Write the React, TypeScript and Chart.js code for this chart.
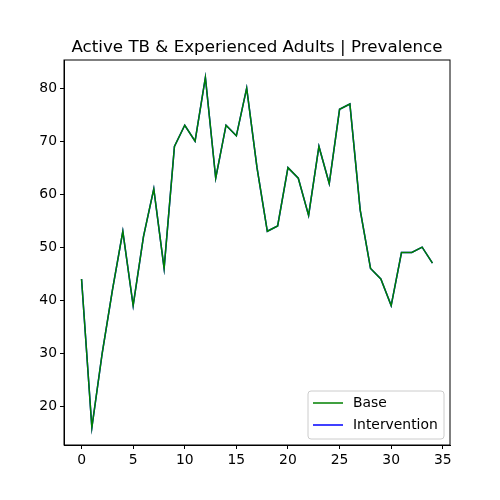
import { useEffect, useRef } from "react"
import { Chart, registerables, type ChartConfiguration, type Plugin } from "chart.js"

Chart.register(...registerables)

const steps = Array.from({ length: 35 }, (_, i) => i)
const baseValues = [44, 16, 30, 42, 53, 39, 52, 61, 46, 69, 73, 70, 82, 63, 73, 71, 80, 65, 53, 54, 65, 63, 56, 69, 62, 76, 77, 57, 46, 44, 39, 49, 49, 50, 47]
const interventionValues = [44, 16, 30, 42, 53, 39, 52, 61, 46, 69, 73, 70, 82, 63, 73, 71, 80, 65, 53, 54, 65, 63, 56, 69, 62, 76, 77, 57, 46, 44, 39, 49, 49, 50, 47]
const xTicks = [0, 5, 10, 15, 20, 25, 30, 35]
const yTicks = [20, 30, 40, 50, 60, 70, 80]
const title = "Active TB & Experienced Adults | Prevalence"
const font = "DejaVu Sans"

// frame, title and matplotlib-style legend
const decorations: Plugin = {
  id: "decorations",
  afterDraw(chart) {
    const { ctx, chartArea: a } = chart
    ctx.save()
    ctx.strokeStyle = "#000"
    ctx.lineWidth = 1
    ctx.strokeRect(a.left, a.top, a.right - a.left, a.bottom - a.top)
    ctx.fillStyle = "#000"
    ctx.font = `16.7px '${font}'`
    ctx.textAlign = "center"
    ctx.textBaseline = "alphabetic"
    ctx.fillText(title, (a.left + a.right) / 2, a.top - 8)

    const items = chart.data.datasets.map((d) => ({ label: d.label as string, color: d.borderColor as string }))
    const w = 136, h = 48
    const x = a.right - w - 6, y = a.bottom - h - 6
    ctx.fillStyle = "rgba(255,255,255,0.8)"
    ctx.strokeStyle = "#ccc"
    ctx.beginPath()
    ctx.roundRect(x, y, w, h, 3)
    ctx.fill()
    ctx.stroke()
    ctx.font = `13.9px '${font}'`
    ctx.textAlign = "left"
    ctx.textBaseline = "middle"
    items.forEach((it, i) => {
      const ly = y + 12 + i * 22
      ctx.strokeStyle = it.color
      ctx.lineWidth = 1.5
      ctx.beginPath()
      ctx.moveTo(x + 5, ly)
      ctx.lineTo(x + 35, ly)
      ctx.stroke()
      ctx.fillStyle = "#000"
      ctx.fillText(it.label, x + 45, ly)
    })
    ctx.restore()
  },
}

export default function App() {
  const canvasRef = useRef<HTMLCanvasElement>(null)

  useEffect(() => {
    document.body.style.margin = "0"
    if (!canvasRef.current) return
    const tickFont = { family: font, size: 13.9 }
    const config: ChartConfiguration = {
      type: "line",
      data: {
        datasets: [
          {
            label: "Base",
            data: steps.map((s, i) => ({ x: s, y: baseValues[i] })),
            borderColor: "#008000",
            borderWidth: 1.5,
            pointRadius: 0,
            tension: 0,
            order: 0,
          },
          {
            label: "Intervention",
            data: steps.map((s, i) => ({ x: s, y: interventionValues[i] })),
            borderColor: "#0000ff",
            borderWidth: 1.5,
            pointRadius: 0,
            tension: 0,
            order: 1,
          },
        ],
      },
      options: {
        responsive: false,
        animation: false,
        layout: { padding: { top: 60, right: 50, left: 0, bottom: 0 } },
        plugins: { legend: { display: false }, tooltip: { enabled: false } },
        scales: {
          x: {
            type: "linear",
            min: -1.7,
            max: 35.7,
            afterBuildTicks: (s) => {
              s.ticks = xTicks.map((v) => ({ value: v }))
            },
            afterFit: (s) => {
              s.height = 55
            },
            grid: { display: true, drawOnChartArea: false, drawTicks: true, tickLength: 4, color: "#000" },
            border: { color: "#000" },
            ticks: { color: "#000", font: tickFont, maxRotation: 0, padding: 3 },
          },
          y: {
            type: "linear",
            min: 12.7,
            max: 85.3,
            afterBuildTicks: (s) => {
              s.ticks = yTicks.map((v) => ({ value: v }))
            },
            afterFit: (s) => {
              s.width = 64
            },
            grid: { display: true, drawOnChartArea: false, drawTicks: true, tickLength: 4, color: "#000" },
            border: { color: "#000" },
            ticks: { color: "#000", font: tickFont, padding: 3 },
          },
        },
      },
      plugins: [decorations],
    }
    const chart = new Chart(canvasRef.current, config)
    return () => chart.destroy()
  }, [])

  return (
    <div style={{ width: 500, height: 500, background: "#fff" }}>
      <canvas ref={canvasRef} width={500} height={500} />
    </div>
  )
}
